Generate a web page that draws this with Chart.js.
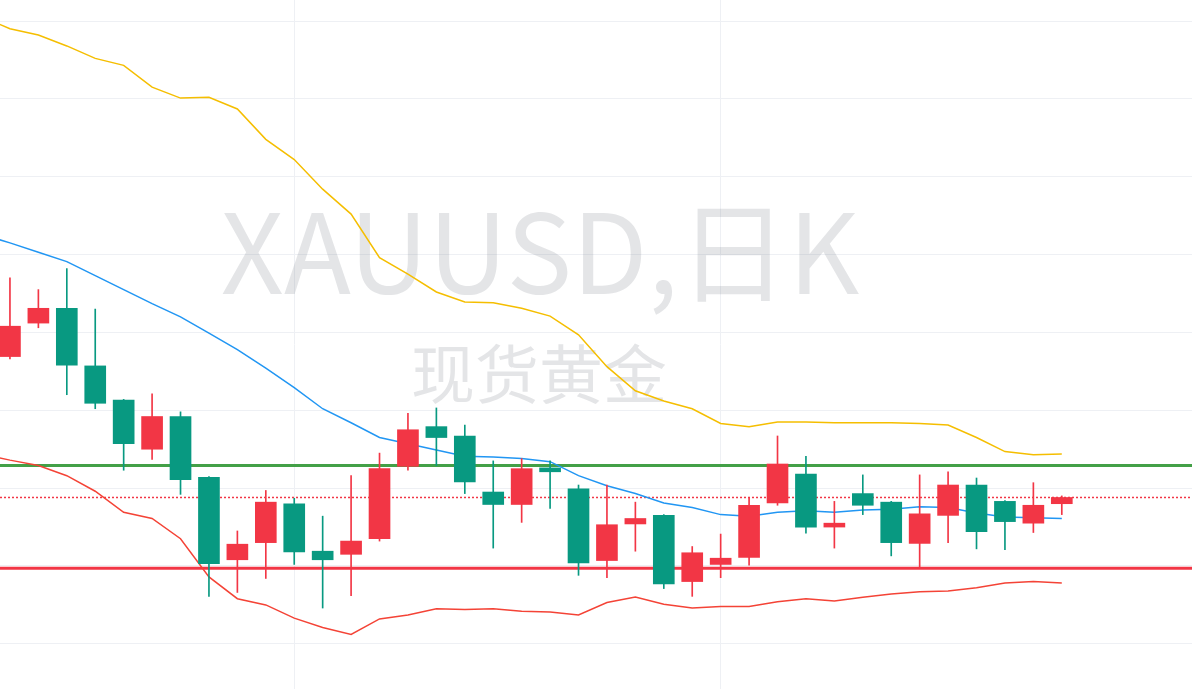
<!DOCTYPE html>
<html>
<head>
<meta charset="utf-8">
<script src="https://cdn.jsdelivr.net/npm/chart.js@4.4.1/dist/chart.umd.min.js"></script>
<style>
  html, body { margin: 0; padding: 0; background: #fff; }
  #wrap { width: 1192px; height: 689px; }
</style>
</head>
<body>
<div id="wrap"><canvas id="chart"></canvas></div>
<script>
// daily candles, oldest -> newest (index 0..37)
const opens  = [1956.9,1961.2,1963.1,1955.7,1951.3,1945.0,1949.2,1941.4,1930.8,1933.0,
                1938.0,1931.9,1931.5,1933.5,1942.8,1947.9,1946.7,1939.5,1937.9,1942.6,
                1939.9,1930.7,1935.4,1936.5,1928.0,1930.2,1931.1,1938.1,1941.8,1935.0,
                1939.3,1938.2,1932.9,1936.5,1940.4,1938.3,1935.5,1938.0];
const highs  = [1967.0,1965.5,1968.2,1963.0,1951.4,1952.1,1949.8,1941.5,1934.5,1939.7,
                1938.7,1936.4,1941.6,1944.5,1949.6,1950.3,1948.1,1943.5,1943.8,1943.5,
                1940.4,1940.4,1938.2,1936.6,1932.5,1934.1,1938.8,1946.7,1944.1,1938.3,
                1941.7,1938.3,1941.7,1942.1,1941.3,1938.4,1940.7,1939.0];
const lows   = [1956.6,1960.6,1952.0,1950.2,1942.3,1943.7,1939.2,1926.1,1926.6,1928.4,
                1930.2,1924.6,1926.2,1933.2,1942.3,1942.9,1939.3,1932.3,1935.6,1937.4,
                1928.8,1928.5,1931.9,1927.1,1926.1,1928.5,1930.1,1937.8,1934.2,1932.3,
                1936.6,1931.3,1929.8,1933.0,1932.2,1932.1,1934.3,1936.6];
const closes = [1960.8,1963.1,1955.8,1950.9,1945.7,1949.2,1941.1,1930.3,1932.8,1938.2,
                1931.8,1930.8,1933.2,1942.5,1947.5,1946.5,1940.8,1937.9,1942.5,1942.1,
                1930.4,1935.3,1936.1,1927.7,1931.7,1931.0,1937.8,1943.1,1935.0,1935.5,
                1937.8,1933.0,1936.7,1940.4,1934.4,1935.7,1937.8,1938.8];

// Bollinger bands (20,2), first value belongs to the day before index 0
const bandStart = -1;
const bbUpper = [2000.6,1999.0,1998.2,1996.8,1995.2,1994.3,1991.5,1990.1,1990.2,1988.7,
                 1984.8,1982.2,1978.4,1975.2,1969.6,1967.5,1965.2,1963.9,1963.8,1963.1,
                 1962.1,1959.7,1955.6,1952.5,1951.2,1950.2,1948.3,1947.9,1948.5,1948.5,
                 1948.4,1948.4,1948.4,1948.3,1948.1,1946.5,1944.7,1944.3,1944.4];
const bbMiddle = [1972.6,1971.5,1970.3,1969.1,1967.3,1965.5,1963.7,1962.0,1959.9,1957.8,
                  1955.4,1952.9,1950.2,1948.4,1946.5,1945.7,1944.9,1944.1,1944.0,1943.8,
                  1943.4,1941.6,1940.3,1939.3,1938.1,1937.5,1936.6,1936.4,1936.9,1937.1,
                  1936.9,1937.2,1937.3,1937.6,1937.5,1936.8,1936.3,1936.2,1936.1];
const bbLower = [1944.4,1943.6,1942.9,1941.6,1939.6,1936.9,1936.1,1933.5,1928.6,1925.8,
                 1925.0,1923.3,1922.1,1921.2,1923.2,1923.7,1924.5,1924.4,1924.5,1924.2,
                 1924.1,1923.7,1925.3,1926.0,1925.1,1924.6,1924.8,1924.8,1925.4,1925.8,
                 1925.5,1926.0,1926.4,1926.7,1926.8,1927.2,1927.8,1928.0,1927.8];

const resistance = 1942.9;
const support = 1929.7;
const lastPrice = closes[closes.length - 1];

const yTicks = [1920, 1930, 1940, 1950, 1960, 1970, 1980, 1990, 2000];
const xGridAt = [10, 25];
const xMin = -0.35, xMax = 41.58;
const yMin = 1914.2, yMax = 2002.7;

const symbolText = 'XAUUSD,日K';
const nameText = '现货黄金';

const UP = '#F23645';
const DOWN = '#089981';

const candleColors = opens.map((o, i) => closes[i] >= o ? UP : DOWN);
const bodies = opens.map((o, i) => ({ x: i, y: [o, closes[i]] }));
const wicks = lows.map((l, i) => ({ x: i, y: [l, highs[i]] }));
const band = arr => arr.map((v, i) => ({ x: i + bandStart, y: v }));
const hline = v => [{ x: xMin, y: v }, { x: xMax, y: v }];

const watermark = {
  id: 'watermark',
  beforeDatasetsDraw(chart) {
    const ctx = chart.ctx;
    ctx.save();
    ctx.fillStyle = 'rgba(120,123,134,0.2)';
    ctx.textAlign = 'center';
    ctx.textBaseline = 'alphabetic';
    ctx.font = '110px "Noto Sans CJK SC", "Noto Sans", sans-serif';
    ctx.fillText(symbolText, 540, 294);
    ctx.textBaseline = 'middle';
    ctx.font = '64px "Noto Sans CJK SC", sans-serif';
    ctx.fillText(nameText, 539, 374);
    ctx.restore();
  }
};

new Chart(document.getElementById('chart'), {
  type: 'bar',
  data: {
    datasets: [
      { type: 'bar', data: bodies, backgroundColor: candleColors, borderWidth: 0,
        barThickness: 21, grouped: false, order: 0 },
      { type: 'bar', data: wicks, backgroundColor: candleColors, borderWidth: 0,
        barThickness: 1, grouped: false, order: 1 },
      { type: 'line', data: band(bbUpper), borderColor: '#F5BE00', borderWidth: 1.5,
        pointRadius: 0, tension: 0, order: 2 },
      { type: 'line', data: band(bbMiddle), borderColor: '#2196F3', borderWidth: 1.5,
        pointRadius: 0, tension: 0, order: 2 },
      { type: 'line', data: band(bbLower), borderColor: '#F44336', borderWidth: 1.5,
        pointRadius: 0, tension: 0, order: 2 },
      { type: 'line', data: hline(resistance), borderColor: '#43A047', borderWidth: 3,
        pointRadius: 0, order: 3 },
      { type: 'line', data: hline(support), borderColor: '#F23645', borderWidth: 3,
        pointRadius: 0, order: 3 },
      { type: 'line', data: hline(lastPrice), borderColor: '#F23645', borderWidth: 1.5,
        borderDash: [2, 2], pointRadius: 0, order: 3 }
    ]
  },
  options: {
    responsive: true,
    maintainAspectRatio: false,
    animation: false,
    layout: { padding: 0 },
    plugins: { legend: { display: false }, tooltip: { enabled: false } },
    scales: {
      x: {
        type: 'linear', min: xMin, max: xMax, offset: false,
        afterBuildTicks: s => { s.ticks = xGridAt.map(v => ({ value: v })); },
        grid: { color: '#EEF0F4', drawTicks: false, offset: false },
        ticks: { display: false },
        border: { display: false }
      },
      y: {
        type: 'linear', min: yMin, max: yMax,
        afterBuildTicks: s => { s.ticks = yTicks.map(v => ({ value: v })); },
        grid: { color: '#EEF0F4', drawTicks: false },
        ticks: { display: false },
        border: { display: false }
      }
    }
  },
  plugins: [watermark]
});
</script>
</body>
</html>
